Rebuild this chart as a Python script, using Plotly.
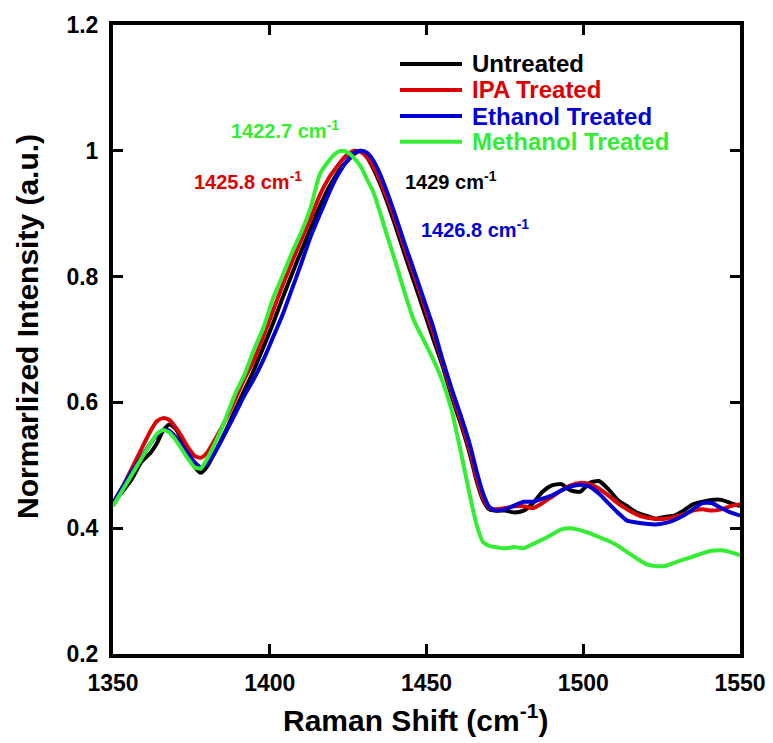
import plotly.graph_objects as go

x_shift = [1350, 1353, 1356, 1359, 1362, 1364, 1366, 1368, 1370, 1372, 1374, 1376, 1378, 1380,
           1383, 1386, 1389, 1392, 1395, 1398, 1401, 1404, 1407, 1410, 1413, 1416, 1419, 1421,
           1423, 1425, 1427, 1429, 1431, 1433, 1435, 1437, 1440, 1443, 1446, 1449, 1452, 1455,
           1458, 1461, 1464, 1466, 1468, 1470, 1472, 1475, 1478, 1481, 1484, 1487, 1490, 1493,
           1496, 1499, 1502, 1505, 1508, 1511, 1514, 1517, 1520, 1523, 1526, 1529, 1532, 1535,
           1538, 1541, 1544, 1547, 1550]

untreated = [0.440, 0.458, 0.478, 0.505, 0.520, 0.535, 0.555, 0.565, 0.558, 0.540, 0.518, 0.498, 0.488, 0.498,
             0.525, 0.555, 0.588, 0.620, 0.652, 0.688, 0.725, 0.765, 0.803, 0.840, 0.876, 0.912, 0.943, 0.960,
             0.975, 0.985, 0.995, 1.000, 0.990, 0.972, 0.950, 0.925, 0.882, 0.836, 0.792, 0.748, 0.703, 0.660,
             0.610, 0.565, 0.515, 0.475, 0.445, 0.430, 0.428, 0.428, 0.425, 0.428, 0.440, 0.458, 0.468, 0.470,
             0.460, 0.458, 0.472, 0.475, 0.462, 0.445, 0.435, 0.425, 0.420, 0.415, 0.418, 0.420, 0.428, 0.438,
             0.442, 0.445, 0.445, 0.440, 0.435]

ipa = [0.440, 0.465, 0.495, 0.525, 0.555, 0.570, 0.575, 0.572, 0.560, 0.545, 0.528, 0.515, 0.512, 0.520,
       0.545, 0.573, 0.605, 0.638, 0.668, 0.705, 0.745, 0.785, 0.822, 0.858, 0.892, 0.930, 0.958, 0.972,
       0.985, 0.995, 1.000, 0.998, 0.990, 0.975, 0.955, 0.930, 0.890, 0.845, 0.802, 0.758, 0.713, 0.665,
       0.615, 0.570, 0.520, 0.480, 0.448, 0.432, 0.430, 0.432, 0.435, 0.435, 0.432, 0.440, 0.450, 0.460,
       0.468, 0.472, 0.470, 0.463, 0.452, 0.440, 0.430, 0.422, 0.417, 0.415, 0.415, 0.418, 0.422, 0.428,
       0.430, 0.428, 0.430, 0.435, 0.438]

ethanol = [0.440, 0.465, 0.490, 0.512, 0.535, 0.548, 0.556, 0.555, 0.545, 0.532, 0.518, 0.505, 0.497, 0.502,
           0.525, 0.553, 0.582, 0.612, 0.638, 0.668, 0.703, 0.738, 0.779, 0.820, 0.863, 0.899, 0.934, 0.955,
           0.972, 0.986, 0.997, 1.000, 0.997, 0.985, 0.965, 0.940, 0.898, 0.853, 0.810, 0.766, 0.722, 0.670,
           0.622, 0.578, 0.530, 0.490, 0.456, 0.434, 0.428, 0.430, 0.436, 0.442, 0.442, 0.447, 0.452, 0.460,
           0.466, 0.469, 0.466, 0.455, 0.440, 0.425, 0.412, 0.409, 0.407, 0.406, 0.408, 0.413, 0.420, 0.430,
           0.440, 0.440, 0.432, 0.425, 0.420]

methanol = [0.435, 0.460, 0.485, 0.510, 0.535, 0.550, 0.556, 0.552, 0.540, 0.525, 0.510, 0.497, 0.495, 0.510,
            0.540, 0.575, 0.614, 0.645, 0.684, 0.719, 0.765, 0.800, 0.837, 0.870, 0.909, 0.963, 0.985, 0.996,
            1.000, 0.997, 0.988, 0.975, 0.955, 0.935, 0.905, 0.872, 0.825, 0.775, 0.730, 0.700, 0.670, 0.635,
            0.588, 0.520, 0.448, 0.405, 0.378, 0.372, 0.370, 0.368, 0.370, 0.368, 0.375, 0.382, 0.390, 0.398,
            0.400, 0.397, 0.392, 0.386, 0.380, 0.372, 0.362, 0.352, 0.343, 0.340, 0.340, 0.345, 0.350, 0.355,
            0.360, 0.364, 0.365, 0.362, 0.357]

series_names = ["Untreated", "IPA Treated", "Ethanol Treated", "Methanol Treated"]
series_values = [untreated, ipa, ethanol, methanol]
colors = ["#000000", "#dd0000", "#0000d4", "#33ee33"]

peak_labels = ["1429 cm<sup>-1</sup>", "1425.8 cm<sup>-1</sup>", "1426.8 cm<sup>-1</sup>", "1422.7 cm<sup>-1</sup>"]
peak_label_x = [1457.8, 1393.2, 1465.4, 1405.0]
peak_label_y = [0.952, 0.952, 0.876, 1.034]

x_ticks = [1350, 1400, 1450, 1500, 1550]
y_ticks = [0.2, 0.4, 0.6, 0.8, 1.0, 1.2]
y_tick_text = ["0.2", "0.4", "0.6", "0.8", "1", "1.2"]

x_title = "Raman Shift (cm<sup>-1</sup>)"
y_title = "Normarlized Intensity (a.u.)"

# manual legend placement (paper coordinates)
legend_line_x = [0.4577, 0.5566]
legend_text_x = 0.5694
legend_row_y = [0.938, 0.8967, 0.8553, 0.8145]

FONT = "Liberation Sans, Arial, sans-serif"

fig = go.Figure()
for name, vals, c in zip(series_names, series_values, colors):
    fig.add_trace(go.Scatter(x=x_shift, y=vals, mode="lines", name=name, showlegend=False,
                             line=dict(color=c, width=4, shape="spline", smoothing=0.6)))

for txt, lx, ly, c in zip(peak_labels, peak_label_x, peak_label_y, colors):
    fig.add_annotation(x=lx, y=ly, text=txt, showarrow=False, xref="x", yref="y",
                       font=dict(family=FONT, size=20, color=c, weight="bold"))

for name, c, ry in zip(series_names, colors, legend_row_y):
    fig.add_shape(type="line", xref="paper", yref="paper",
                  x0=legend_line_x[0], x1=legend_line_x[1], y0=ry, y1=ry,
                  line=dict(color=c, width=4))
    fig.add_annotation(x=legend_text_x, y=ry, xref="paper", yref="paper", text=name,
                       showarrow=False, xanchor="left", yanchor="middle",
                       font=dict(family=FONT, size=24, color=c, weight="bold"))

# axis titles
fig.add_annotation(x=0.4817, y=-0.1017, xref="paper", yref="paper", text=x_title,
                   showarrow=False, xanchor="center", yanchor="middle",
                   font=dict(family=FONT, size=30, color="black", weight="bold"))
fig.add_annotation(x=-0.1356, y=0.5215, xref="paper", yref="paper", text=y_title,
                   showarrow=False, xanchor="center", yanchor="middle", textangle=-90,
                   font=dict(family=FONT, size=30, color="black", weight="bold"))

axis_common = dict(showline=True, linewidth=4, linecolor="black", mirror="ticks",
                   ticks="inside", ticklen=10, tickwidth=3, tickcolor="black",
                   showgrid=False, zeroline=False,
                   tickfont=dict(family=FONT, size=23, color="black", weight="bold"))

fig.update_xaxes(range=[1350, 1550], tickvals=x_ticks, ticktext=[str(t) for t in x_ticks],
                 ticklabelstandoff=5, **axis_common)
fig.update_yaxes(range=[0.2, 1.2], tickvals=y_ticks, ticktext=y_tick_text,
                 ticklabelstandoff=6, **axis_common)

fig.update_layout(
    width=765, height=735,
    margin=dict(l=105, r=33, t=17, b=89, autoexpand=False),
    plot_bgcolor="white", paper_bgcolor="white",
    showlegend=False,
)

fig.write_html("out.html")
